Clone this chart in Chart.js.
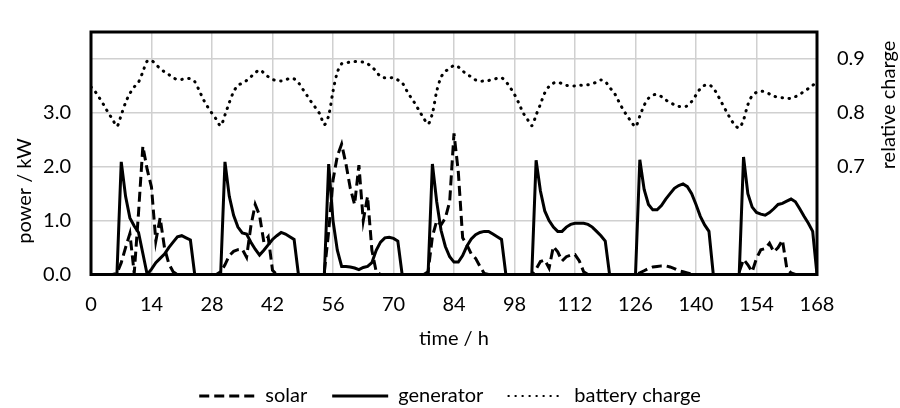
<!DOCTYPE html>
<html lang="en">
<head>
<meta charset="utf-8">
<title>Power and battery charge</title>
<script src="https://cdn.jsdelivr.net/npm/chart.js@4/dist/chart.umd.min.js"></script>
<style>
  html, body { margin: 0; padding: 0; background: #fff; }
</style>
</head>
<body>
<canvas id="myChart" width="900" height="408"></canvas>
<script>
// hourly values over one week
var hours = [
  0, 1, 2, 3, 4, 5, 6, 7, 8, 9, 10, 11, 12, 13, 14, 15, 16, 17, 18, 19, 20, 21, 22, 23,
  24, 25, 26, 27, 28, 29, 30, 31, 32, 33, 34, 35, 36, 37, 38, 39, 40, 41, 42, 43, 44, 45, 46, 47,
  48, 49, 50, 51, 52, 53, 54, 55, 56, 57, 58, 59, 60, 61, 62, 63, 64, 65, 66, 67, 68, 69, 70, 71,
  72, 73, 74, 75, 76, 77, 78, 79, 80, 81, 82, 83, 84, 85, 86, 87, 88, 89, 90, 91, 92, 93, 94, 95,
  96, 97, 98, 99, 100, 101, 102, 103, 104, 105, 106, 107, 108, 109, 110, 111, 112, 113, 114, 115, 116, 117, 118, 119,
  120, 121, 122, 123, 124, 125, 126, 127, 128, 129, 130, 131, 132, 133, 134, 135, 136, 137, 138, 139, 140, 141, 142, 143,
  144, 145, 146, 147, 148, 149, 150, 151, 152, 153, 154, 155, 156, 157, 158, 159, 160, 161, 162, 163, 164, 165, 166, 167,
  168
];

// kW
var solar = [
  0, 0, 0, 0, 0, 0, 0.02, 0.22, 0.5, 0.76, 0.02, 1.15,
  2.38, 1.95, 1.62, 0.62, 1.05, 0.5, 0.2, 0.05, 0, 0, 0, 0,
  0, 0, 0, 0, 0, 0, 0.05, 0.18, 0.35, 0.43, 0.46, 0.47,
  0.32, 0.9, 1.3, 1.1, 0.6, 0.7, 0.08, 0, 0, 0, 0, 0,
  0, 0, 0, 0, 0, 0, 0.05, 0.8, 1.75, 2.2, 2.42, 2.05,
  1.6, 1.3, 2.03, 1.0, 1.45, 0.45, 0.05, 0, 0, 0, 0, 0,
  0, 0, 0, 0, 0, 0, 0.05, 0.7, 1.0, 0.92, 1.05, 1.35,
  2.62, 1.9, 0.68, 0.55, 0.38, 0.3, 0.15, 0.02, 0, 0, 0, 0,
  0, 0, 0, 0, 0, 0, 0, 0.1, 0.24, 0.27, 0.12, 0.52,
  0.42, 0.25, 0.33, 0.36, 0.37, 0.25, 0.05, 0, 0, 0, 0, 0,
  0, 0, 0, 0, 0, 0, 0, 0.03, 0.07, 0.11, 0.14, 0.15,
  0.16, 0.16, 0.14, 0.11, 0.07, 0.05, 0.03, 0.01, 0, 0, 0, 0,
  0, 0, 0, 0, 0, 0, 0.05, 0.28, 0.18, 0.05, 0.3, 0.46,
  0.48, 0.58, 0.42, 0.5, 0.64, 0.12, 0.03, 0, 0, 0, 0, 0,
  0
];

var generator = [
  0, 0, 0, 0, 0, 0, 0, 2.09, 1.45, 1.05, 0.9, 0.78,
  0.39, 0, 0.1, 0.22, 0.3, 0.38, 0.5, 0.6, 0.7, 0.72, 0.68, 0.64,
  0, 0, 0, 0, 0, 0, 0, 2.09, 1.45, 1.1, 0.88, 0.77,
  0.75, 0.6, 0.47, 0.36, 0.45, 0.55, 0.65, 0.72, 0.78, 0.75, 0.7, 0.65,
  0, 0, 0, 0, 0, 0, 0, 2.05, 1.0, 0.45, 0.15, 0.15,
  0.14, 0.12, 0.09, 0.13, 0.15, 0.22, 0.45, 0.6, 0.68, 0.69, 0.67, 0.62,
  0, 0, 0, 0, 0, 0, 0, 2.05, 1.35, 0.82, 0.52, 0.33,
  0.23, 0.23, 0.35, 0.53, 0.66, 0.74, 0.78, 0.8, 0.8, 0.75, 0.7, 0.65,
  0, 0, 0, 0, 0, 0, 0, 2.12, 1.55, 1.18, 1.0, 0.88,
  0.8, 0.8, 0.88, 0.93, 0.95, 0.95, 0.95, 0.93, 0.88, 0.8, 0.72, 0.62,
  0, 0, 0, 0, 0, 0, 0, 2.13, 1.58, 1.3, 1.2, 1.2,
  1.28, 1.4, 1.5, 1.6, 1.65, 1.68, 1.63, 1.5, 1.3, 1.08, 0.92, 0.8,
  0, 0, 0, 0, 0, 0, 0, 2.18, 1.5, 1.25, 1.15, 1.12,
  1.1, 1.15, 1.22, 1.3, 1.32, 1.36, 1.4, 1.35, 1.22, 1.08, 0.95, 0.8,
  0
];

// relative state of charge
var batteryCharge = [
  0.848, 0.839, 0.827, 0.814, 0.8, 0.788, 0.775, 0.796, 0.819, 0.836, 0.848, 0.857,
  0.876, 0.896, 0.897, 0.89, 0.882, 0.876, 0.871, 0.865, 0.862, 0.862, 0.864, 0.863,
  0.858, 0.842, 0.825, 0.811, 0.799, 0.788, 0.776, 0.796, 0.819, 0.839, 0.851, 0.855,
  0.86, 0.867, 0.874, 0.88, 0.874, 0.867, 0.862, 0.86, 0.859, 0.861, 0.864, 0.863,
  0.856, 0.844, 0.832, 0.82, 0.809, 0.797, 0.778, 0.795, 0.84, 0.875, 0.891, 0.893,
  0.894, 0.895, 0.895, 0.894, 0.891, 0.885, 0.877, 0.867, 0.865, 0.865, 0.865, 0.861,
  0.856, 0.842, 0.829, 0.817, 0.803, 0.79, 0.779, 0.799, 0.84, 0.866, 0.877, 0.882,
  0.888, 0.885, 0.878, 0.871, 0.867, 0.861, 0.859, 0.859, 0.86, 0.862, 0.864, 0.865,
  0.858, 0.847, 0.834, 0.818, 0.8, 0.788, 0.776, 0.796, 0.816, 0.837, 0.849, 0.855,
  0.857, 0.854, 0.851, 0.85, 0.85, 0.851, 0.851, 0.852, 0.854, 0.857, 0.861, 0.858,
  0.847, 0.838, 0.823, 0.808, 0.795, 0.784, 0.774, 0.794, 0.814, 0.827, 0.833, 0.834,
  0.83, 0.824, 0.819, 0.815, 0.812, 0.811, 0.813, 0.821, 0.833, 0.845, 0.851, 0.852,
  0.846, 0.833, 0.818, 0.803, 0.789, 0.777, 0.772, 0.787, 0.815, 0.832, 0.838, 0.84,
  0.839, 0.835, 0.831, 0.829, 0.828, 0.827, 0.827, 0.83, 0.834, 0.84, 0.845, 0.851,
  0.857
];

var FONT = "Lato, 'Open Sans', sans-serif";
Chart.defaults.font.family = FONT;
Chart.defaults.font.size = 20;
Chart.defaults.color = '#000';

// heavy black box round the plot area
var framePlugin = {
  id: 'frame',
  afterDatasetsDraw: function(chart) {
    var a = chart.chartArea, ctx = chart.ctx;
    ctx.save();
    ctx.strokeStyle = '#000';
    ctx.lineWidth = 3;
    ctx.strokeRect(a.left, a.top, a.right - a.left, a.bottom - a.top);
    ctx.restore();
  }
};

// vertical axis titles
var sideTitles = {
  id: 'sideTitles',
  afterDraw: function(chart) {
    var ctx = chart.ctx;
    var titles = [['power / kW', 25, 191], ['relative charge', 889, 105]];
    ctx.save();
    ctx.fillStyle = '#000';
    ctx.font = '20px ' + FONT;
    ctx.textAlign = 'center';
    ctx.textBaseline = 'middle';
    titles.forEach(function(t) {
      ctx.save();
      ctx.translate(t[1], t[2]);
      ctx.rotate(-Math.PI / 2);
      ctx.fillText(t[0], 0, 0);
      ctx.restore();
    });
    ctx.restore();
  }
};

// legend samples keep each dataset's dash pattern
function legendLabels(chart) {
  var items = Chart.defaults.plugins.legend.labels.generateLabels(chart);
  items.forEach(function(item) {
    var ds = chart.data.datasets[item.datasetIndex];
    item.lineDash = ds.borderDash || [];
    item.lineCap = ds.borderCapStyle || 'butt';
    item.lineWidth = ds.legendWidth || ds.borderWidth;
    item.strokeStyle = '#000';
  });
  return items;
}

var ctx = document.getElementById('myChart').getContext('2d');
var myChart = new Chart(ctx, {
  type: 'line',
  data: {
    labels: hours,
    datasets: [{
      label: 'solar',
      data: solar,
      yAxisID: 'y',
      borderColor: '#000',
      backgroundColor: '#000',
      borderWidth: 3,
      borderDash: [10, 5],
      pointRadius: 0,
      tension: 0
    }, {
      label: 'generator',
      data: generator,
      yAxisID: 'y',
      borderColor: '#000',
      backgroundColor: '#000',
      borderWidth: 3,
      pointRadius: 0,
      tension: 0
    }, {
      label: 'battery charge',
      data: batteryCharge,
      yAxisID: 'y1',
      borderColor: '#000',
      backgroundColor: '#000',
      borderWidth: 3,
      legendWidth: 2,
      borderDash: [0.5, 6.5],
      borderCapStyle: 'round',
      pointRadius: 0,
      tension: 0.3
    }]
  },
  options: {
    responsive: false,
    animation: false,
    layout: { padding: { top: 13, bottom: -8, left: 0, right: 0 } },
    plugins: {
      tooltip: { enabled: false },
      legend: {
        position: 'bottom',
        labels: {
          usePointStyle: true,
          pointStyle: 'line',
          pointStyleWidth: 56,
          padding: 25,
          color: '#000',
          font: { size: 20 },
          generateLabels: legendLabels
        }
      }
    },
    scales: {
      x: {
        type: 'linear',
        min: 0,
        max: 168,
        ticks: { stepSize: 14, padding: 18, maxRotation: 0 },
        grid: { color: '#d0d0d0', lineWidth: 1.5, drawTicks: false },
        border: { display: false },
        title: { display: true, text: 'time / h', padding: { top: 0, bottom: 10 } },
        afterFit: function(s) { s.height = 86.5; }
      },
      y: {
        position: 'left',
        min: 0,
        max: 4.5,
        ticks: {
          stepSize: 1,
          padding: 20,
          includeBounds: false,
          callback: function(v) { return v <= 3 ? v.toFixed(1) : ''; }
        },
        grid: { color: '#d0d0d0', lineWidth: 1.5, drawTicks: false },
        border: { display: false },
        afterFit: function(s) { s.width = 91; }
      },
      y1: {
        position: 'right',
        min: 0.5,
        max: 0.95,
        ticks: {
          stepSize: 0.1,
          padding: 20,
          includeBounds: false,
          callback: function(v) {
            var r = Math.round(v * 10) / 10;
            return r >= 0.7 ? r.toFixed(1) : '';
          }
        },
        grid: { drawOnChartArea: false, drawTicks: false },
        border: { display: false },
        afterFit: function(s) { s.width = 83; }
      }
    }
  },
  plugins: [framePlugin, sideTitles]
});
</script>
</body>
</html>
